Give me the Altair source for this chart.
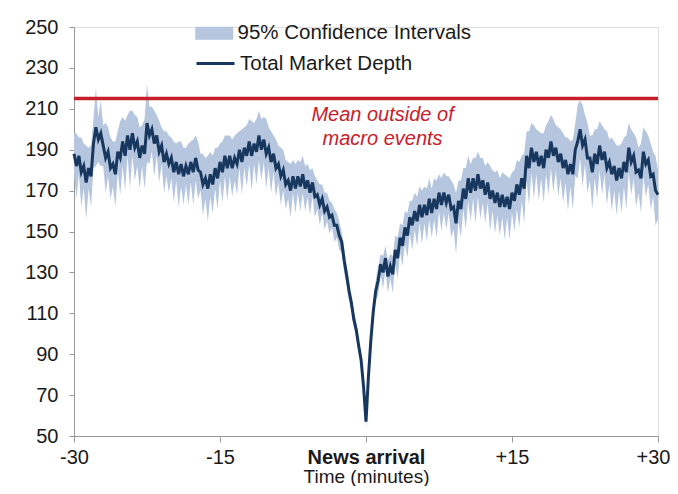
import altair as alt
import pandas as pd

# Total market depth around macro news arrival, quarter-minute steps from -30 to +30
DEPTH = [
    188, 182, 187, 179,  182, 174, 181, 177,  193, 201, 195, 198,  192, 186, 189, 181,
    183, 178, 189, 186,  194, 187, 197, 190,  198, 191, 194, 186,  192, 188, 203, 197,
    200, 193, 197, 189,  192, 184, 188, 183,  186, 179, 184, 178,  183, 177, 182, 178,
    184, 179, 186, 180,  179, 173, 176, 171,  178, 173, 181, 176,  184, 179, 187, 181,
    187, 181, 186, 183,  190, 184, 191, 187,  194, 187, 193, 189,  197, 190, 195, 188,
    191, 184, 188, 181,  183, 177, 180, 173,  175, 170, 177, 171,  177, 172, 178, 171,
    175, 169, 174, 167,  168, 163, 166, 160,  162, 157, 158, 153,  153, 148, 145, 136,
    129, 121, 115, 107,  102, 94, 87, 74,
    57, 79, 97, 111,  121, 126, 134, 130,  137, 128, 133, 129,  141, 137, 147, 143,
    152, 148, 157, 153,  160, 155, 163, 157,  163, 158, 166, 159,  166, 161, 169, 163,
    169, 164, 168, 161,  162, 154, 165, 161,  171, 166, 176, 169,  176, 170, 178, 171,
    175, 168, 174, 166,  170, 164, 169, 162,  168, 162, 167, 161,  169, 165, 173, 168,
    176, 171, 187, 181,  191, 184, 189, 182,  187, 181, 190, 186,  194, 187, 191, 184,
    188, 181, 185, 178,  183, 178, 190, 194,  200, 192, 195, 186,  186, 179, 188, 183,
    192, 185, 189, 181,  184, 178, 182, 175,  181, 176, 184, 179,  191, 184, 187, 179,
    180, 176, 189, 183,  185, 177, 178, 170,
    168,
]

# Half-width of the 95% confidence interval at each point
HALF_WIDTH = [
    10, 16, 9, 17,  11, 18, 10, 15,  12, 19, 11, 16,  10, 17, 12, 15,
    11, 16, 10, 18,  12, 17, 10, 19,  11, 16, 12, 15,  10, 17, 19, 14,
    11, 16, 10, 15,  9, 15, 11, 14,  10, 15, 9, 16,  11, 14, 9, 15,
    10, 16, 11, 14,  9, 15, 10, 16,  11, 14, 10, 15,  9, 15, 10, 16,
    10, 14, 11, 15,  9, 16, 10, 15,  11, 17, 10, 16,  12, 15, 11, 17,
    10, 15, 9, 14,  9, 14, 10, 12,  9, 13, 8, 12,  8, 12, 9, 11,
    8, 11, 7, 10,  7, 10, 7, 9,  7, 8, 6, 8,  6, 7, 5, 6,
    5, 5, 4, 4,  4, 3, 3, 3,
    3, 3, 3, 4,  5, 7, 5, 8,  6, 8, 6, 9,  7, 10, 7, 10,
    8, 11, 8, 12,  9, 12, 9, 13,  9, 13, 10, 12,  10, 14, 9, 13,
    10, 13, 9, 14,  11, 15, 10, 14,  10, 15, 11, 14,  10, 16, 11, 15,
    11, 14, 10, 16,  10, 15, 11, 14,  11, 16, 10, 15,  10, 15, 12, 16,
    11, 17, 12, 18,  12, 18, 11, 17,  11, 17, 12, 18,  13, 18, 11, 17,
    12, 17, 11, 18,  11, 17, 13, 18,  14, 20, 12, 17,  11, 18, 12, 17,
    12, 17, 11, 18,  11, 18, 12, 17,  11, 17, 12, 18,  12, 16, 11, 17,
    11, 17, 12, 16,  12, 16, 11, 17,
    12,
]

MEAN_OUTSIDE = 215
X_TICKS = [-30, -15, 0, 15, 30]
Y_TICKS = [50, 70, 90, 110, 130, 150, 170, 190, 210, 230, 250]
ANNOT_LINES = ["Mean outside of", "macro events"]
ANNOT_X = [1.7, 1.7]
ANNOT_Y = [207, 195.3]

TIMES = [-30 + 0.25 * i for i in range(len(DEPTH))]

df = pd.DataFrame({
    "t": TIMES,
    "depth": DEPTH,
    "lo": [d - h for d, h in zip(DEPTH, HALF_WIDTH)],
    "hi": [d + h for d, h in zip(DEPTH, HALF_WIDTH)],
    "ci": "95% Confidence Intervals",
    "series": "Total Market Depth",
})
annot = pd.DataFrame({"t": ANNOT_X, "y": ANNOT_Y, "txt": ANNOT_LINES})
mean_df = pd.DataFrame({"y": [MEAN_OUTSIDE]})

FONT = "Liberation Sans, Arial, sans-serif"
BAND = "#b5c6de"
NAVY = "#17375e"
RED = "#c8202b"

x_scale = alt.Scale(domain=[-30, 30], nice=False, zero=False)
y_scale = alt.Scale(domain=[50, 250], nice=False, zero=False)

x_axis = alt.Axis(
    values=X_TICKS,
    title="Time (minutes)",
    labelExpr="datum.value == 0 ? 'News arrival' : (datum.value > 0 ? '+' + datum.value : '' + datum.value)",
    labelFont=FONT, labelFontSize=20, labelColor="#1a1a1a",
    labelFontWeight={"condition": {"test": "datum.value == 0", "value": "bold"}, "value": "normal"},
    labelOffset={"condition": {"test": "datum.value == 30", "value": -5}, "value": 0},
    titleFont=FONT, titleFontSize=19, titleFontWeight="normal", titleColor="#1a1a1a",
    titleY=46, titleBaseline="alphabetic",
    tickSize=6, labelPadding=5, tickColor="#999999", domainColor="#999999",
    grid=False, labelFlush=False,
)
y_axis = alt.Axis(
    values=Y_TICKS, title=None,
    labelFont=FONT, labelFontSize=20, labelColor="#1a1a1a",
    tickSize=5, labelPadding=11, tickColor="#999999", domainColor="#999999",
    grid=False,
)

band = alt.Chart(df).mark_area(opacity=1).encode(
    x=alt.X("t:Q", scale=x_scale, axis=x_axis),
    y=alt.Y("lo:Q", scale=y_scale, axis=y_axis),
    y2="hi:Q",
    fill=alt.Fill(
        "ci:N",
        scale=alt.Scale(domain=["95% Confidence Intervals"], range=[BAND]),
        legend=alt.Legend(
            title=None, orient="none", legendX=130, legendY=-4,
            symbolType="M-1.9,-0.65H1.9V0.65H-1.9Z", symbolSize=400,
            symbolOpacity=1, symbolStrokeWidth=0,
            labelFont=FONT, labelFontSize=20.5, labelColor="#1a1a1a", labelOffset=13,
            labelLimit=0, padding=0,
        ),
    ),
)

line = alt.Chart(df).mark_line(strokeWidth=3, strokeJoin="miter").encode(
    x="t:Q",
    y="depth:Q",
    stroke=alt.Stroke(
        "series:N",
        scale=alt.Scale(domain=["Total Market Depth"], range=[NAVY]),
        legend=alt.Legend(
            title=None, orient="none", legendX=130, legendY=25,
            symbolType="M-1.9,0H1.9", symbolSize=400, symbolStrokeWidth=3,
            labelFont=FONT, labelFontSize=20.5, labelColor="#1a1a1a", labelOffset=13,
            labelLimit=0, padding=0,
        ),
    ),
)

mean_rule = alt.Chart(mean_df).mark_rule(color=RED, strokeWidth=3.5).encode(
    y=alt.Y("y:Q", scale=y_scale),
)

text = alt.Chart(annot).mark_text(
    color=RED, font=FONT, fontSize=20, fontStyle="italic", align="center", baseline="middle",
).encode(
    x="t:Q",
    y="y:Q",
    text="txt:N",
)

chart = alt.layer(band, line, mean_rule, text).resolve_legend(
    fill="independent", stroke="independent"
).properties(
    width=584, height=409,
    autosize=alt.AutoSizeParams(type="none"),
    padding={"left": 66, "top": 19, "right": 12, "bottom": 50},
).configure_view(stroke=None).configure(background="white")

chart.save("out.html", embed_options={"renderer": "svg", "actions": False})
